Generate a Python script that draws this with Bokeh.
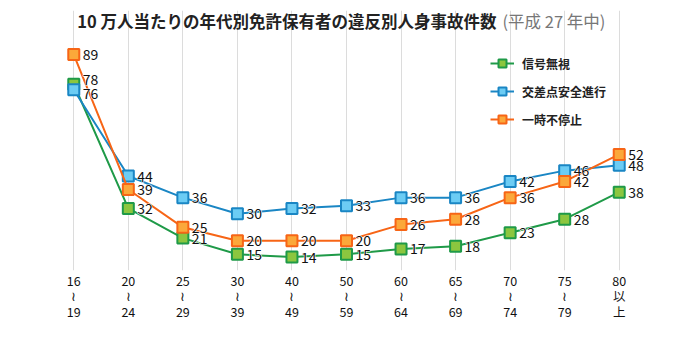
from bokeh.plotting import figure
from bokeh.models import Range1d, ColumnDataSource, Label, Legend, LegendItem, Text
from bokeh.core.properties import value
from bokeh.embed import file_html
from bokeh.resources import INLINE

categories = ["16\n≀\n19", "20\n≀\n24", "25\n≀\n29", "30\n≀\n39", "40\n≀\n49",
              "50\n≀\n59", "60\n≀\n64", "65\n≀\n69", "70\n≀\n74", "75\n≀\n79", "80\n以\n上"]
signal_ignore = [78, 32, 21, 15, 14, 15, 17, 18, 23, 28, 38]
intersection = [76, 44, 36, 30, 32, 33, 36, 36, 42, 46, 48]
no_stop = [89, 39, 25, 20, 20, 20, 26, 28, 36, 42, 52]
series_names = ["信号無視", "交差点安全進行", "一時不停止"]
title_main = "10 万人当たりの年代別免許保有者の違反別人身事故件数"
title_sub = "(平成 27 年中)"

FONT = "Noto Sans CJK JP"
styles = [
    ("#1f9a48", "#8cc63f"),
    ("#1a86c4", "#6cccf4"),
    ("#f76516", "#fba83a"),
]

p = figure(width=686, height=347, output_backend="svg", toolbar_location=None,
           x_range=Range1d(-0.5, 10.5), y_range=Range1d(9, 105.33),
           y_axis_location=None, min_border_left=46, min_border_right=40,
           min_border_top=10, min_border_bottom=77)
p.outline_line_color = None
p.background_fill_color = "white"
p.border_fill_color = "white"
p.ygrid.visible = False
p.xgrid.grid_line_color = "#dcdcdc"
p.xgrid.grid_line_width = 1
p.xgrid.bounds = (9, 90.5)

xs = list(range(len(categories)))
p.xaxis.ticker = xs
p.xaxis.major_label_overrides = {i: c for i, c in enumerate(categories)}
p.xaxis.axis_line_color = None
p.xaxis.major_tick_line_color = None
p.xaxis.minor_tick_line_color = None
p.xaxis.major_tick_out = 0
p.xaxis.major_tick_in = 0
p.xaxis.minor_tick_out = 0
p.xaxis.major_label_standoff = 0
p.xaxis.major_label_text_font = FONT
p.xaxis.major_label_text_font_size = "12.5px"
p.xaxis.major_label_text_line_height = 0.82
p.xaxis.major_label_text_color = "#111111"

has_outline = "text_outline_color" in Text.properties()

all_series = [signal_ignore, intersection, no_stop]
legend_items = []
for vals, (lc, fc), name in zip(all_series, styles, series_names):
    src = ColumnDataSource(dict(x=xs, y=vals))
    l = p.line("x", "y", source=src, line_color=lc, line_width=2)
    m = p.scatter("x", "y", source=src, marker="square", size=11,
                  fill_color=fc, line_color=lc, line_width=2)
    legend_items.append(LegendItem(label=name, renderers=[l, m]))

for si, vals in enumerate(all_series):
    yoff = [0] * len(vals)
    if si == 0:
        yoff[0] = -5
    if si == 1:
        yoff[0] = 4
    src = ColumnDataSource(dict(x=xs, y=vals, t=[str(v) for v in vals], yo=yoff))
    common = dict(x_offset=9, y_offset="yo", text_font=value(FONT), text_font_size="14px",
                  text_align="left", text_baseline="middle")
    if has_outline:
        p.text("x", "y", text="t", source=src, text_color="white",
               text_outline_color="white", **common)
    p.text("x", "y", text="t", source=src, text_color="#111111", **common)

legend = Legend(items=legend_items, location=(444, 141), orientation="vertical",
                glyph_width=24, glyph_height=20, spacing=8, padding=0, margin=0,
                label_standoff=8, label_text_font=FONT, label_text_font_size="12px",
                label_text_font_style="bold", label_text_color="#222222",
                background_fill_alpha=0, border_line_color=None)
p.add_layout(legend, "center")

p.add_layout(Label(x=7.75, y=101.6, text=title_main,
                   text_align="right", text_baseline="middle", text_font=FONT,
                   text_font_size="16.5px", text_font_style="bold", text_color="#222222"))
p.add_layout(Label(x=7.86, y=101.6, text=title_sub,
                   text_align="left", text_baseline="middle", text_font=FONT,
                   text_font_size="16.5px", text_color="#777777"))

open("out.html", "w").write(file_html(p, INLINE))
